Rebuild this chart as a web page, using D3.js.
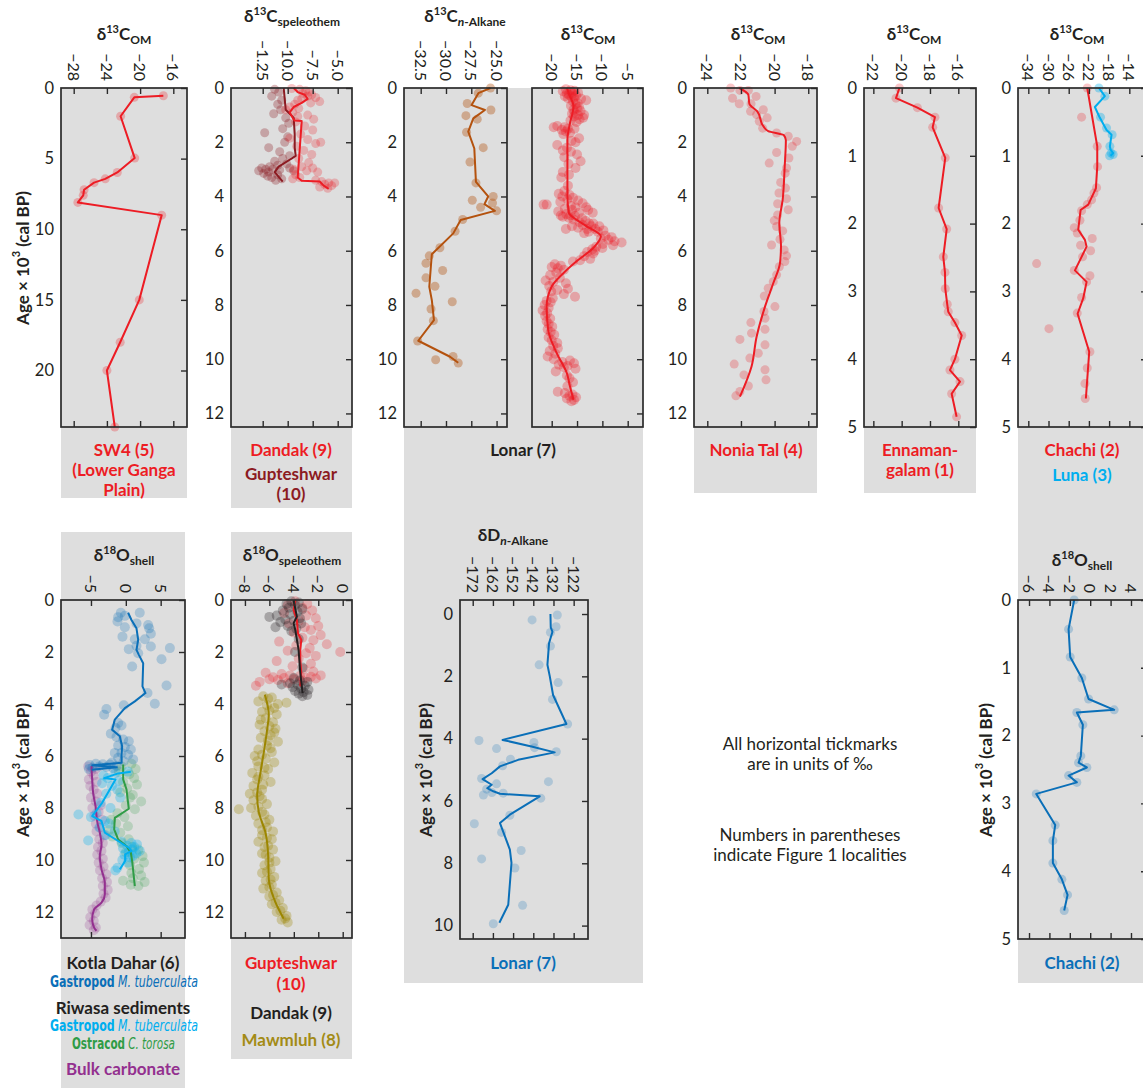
<!DOCTYPE html>
<html>
<head>
<meta charset="utf-8">
<script src="https://cdn.jsdelivr.net/npm/d3@7"></script>
<style>
  body { margin: 0; background: #fff; }
  svg { display: block; }
  text { font-family: Lato, "Open Sans", sans-serif; fill: #231f20; }
  .tick text { font-size: 16px; }
  .ylab text { font-size: 16.5px; }
</style>
</head>
<body>
<svg id="fig" width="1143" height="1090"></svg>
<script>
// ---- data: [age (ka), isotope value (‰)] ----
const sw4 = [[0.55,-17.2],[0.66,-20.7],[2.0,-22.35],[4.96,-20.65],[5.98,-22.75],[6.43,-24.2],[6.7,-25.55],[7.2,-26.75],[7.6,-26.85],[8.1,-27.5],[9.0,-17.4],[15.0,-20.1],[18.0,-22.4],[20.0,-24.0],[24.0,-23.05]];

const dandakC13Line = [[0,-9.4],[0.15,-9.0],[0.25,-8.3],[0.4,-8.0],[0.55,-8.6],[0.7,-9.4],[0.9,-9.8],[1.1,-9.5],[1.2,-9.3],[1.22,-8.6],[3.3,-9.0],[3.42,-8.6],[3.45,-6.8],[3.6,-6.4],[3.72,-5.9]];
const dandakC13 = [[0.02,-9.6],[0.05,-8.8],[0.1,-8.2],[0.15,-7.9],[0.2,-8.5],[0.25,-7.6],[0.3,-8.0],[0.35,-7.2],[0.4,-8.6],[0.45,-9.0],[0.5,-6.8],[0.55,-7.7],[0.6,-9.3],[0.7,-9.8],[0.75,-8.9],[0.8,-10.2],[0.9,-9.5],[1.0,-8.0],[1.05,-9.0],[1.15,-7.4],[1.25,-9.2],[1.4,-8.3],[1.55,-7.5],[1.7,-8.7],[1.85,-9.8],[1.9,-8.0],[2.0,-6.7],[2.05,-7.2],[2.15,-9.1],[2.3,-8.4],[2.45,-7.6],[2.6,-8.9],[2.75,-7.9],[2.9,-8.6],[2.95,-7.5],[3.0,-9.4],[3.05,-8.1],[3.1,-7.0],[3.2,-9.2],[3.3,-8.8],[3.4,-7.2],[3.45,-6.6],[3.5,-5.9],[3.55,-6.3],[3.6,-5.6],[3.65,-6.8],[3.7,-6.0],[3.5,-5.3],[3.35,-9.5]];
const guptC13Line = [[0,-10.4],[0.8,-10.2],[1.1,-9.4],[1.7,-9.3],[2.2,-9.3],[2.5,-9.2],[2.6,-9.6],[2.9,-10.9],[3.1,-11.3],[3.45,-10.5]];
const guptC13 = [[0.05,-11.3],[0.15,-10.9],[0.3,-11.6],[0.45,-10.6],[0.6,-11.0],[0.8,-10.7],[0.95,-11.4],[1.1,-10.2],[1.3,-9.9],[1.5,-10.5],[1.65,-12.3],[1.8,-10.0],[2.0,-10.3],[2.2,-11.9],[2.35,-10.8],[2.5,-9.8],[2.6,-10.5],[2.7,-11.3],[2.8,-10.1],[2.85,-11.0],[2.9,-11.8],[2.95,-12.6],[2.95,-9.8],[3.0,-12.2],[3.0,-11.5],[3.02,-10.8],[3.05,-12.9],[3.05,-9.4],[3.1,-11.9],[3.15,-12.4],[3.2,-11.0],[3.25,-12.0],[3.3,-11.6],[3.35,-10.6],[3.4,-11.2]];

const lonarAlkLine = [[0,-25.6],[0.19,-26.8],[0.63,-27.47],[0.81,-26.15],[1.12,-27.3],[1.61,-27.8],[2.23,-27.2],[3.46,-27.04],[4.0,-25.83],[4.28,-26.2],[4.53,-25.17],[4.87,-28.55],[5.36,-29.28],[6.13,-31.4],[7.33,-31.65],[7.82,-31.4],[8.56,-31.19],[9.32,-32.74],[9.91,-29.6],[10.13,-28.79]];
const lonarAlk = [[0.0,-25.6],[0.19,-26.81],[0.57,-27.9],[0.81,-25.56],[1.02,-28.03],[1.15,-26.91],[1.63,-27.97],[2.2,-26.32],[2.73,-27.63],[3.5,-27.04],[4.0,-25.33],[4.14,-27.4],[4.24,-25.4],[4.4,-26.58],[4.53,-25.0],[4.85,-28.35],[5.28,-29.1],[5.89,-30.6],[6.19,-31.65],[6.46,-31.98],[6.73,-30.33],[7.0,-31.98],[7.31,-31.09],[7.57,-32.96],[7.88,-29.38],[8.15,-31.48],[8.58,-31.25],[9.33,-32.8],[9.9,-29.3],[10.02,-31.02],[10.14,-28.79]];

const lonarOMLine = [[0,-17.0],[0.25,-16.5],[0.68,-15.7],[1.3,-16.4],[1.91,-16.9],[2.89,-16.9],[3.97,-16.9],[4.61,-16.6],[4.86,-15.1],[5.1,-13.1],[5.47,-10.3],[5.9,-11.8],[6.39,-15.1],[6.83,-17.7],[7.32,-20.0],[8.06,-21.0],[8.92,-20.7],[9.78,-19.0],[10.52,-17.0],[11.0,-16.4],[11.5,-15.7]];
const lonarOM = [[0.05,-17.2],[0.08,-16.3],[0.1,-15.5],[0.12,-17.8],[0.15,-16.0],[0.18,-14.8],[0.2,-17.0],[0.22,-15.9],[0.25,-16.6],[0.28,-15.2],[0.3,-17.4],[0.32,-16.1],[0.35,-15.6],[0.38,-16.8],[0.4,-14.2],[0.45,-13.2],[0.5,-15.8],
  [0.55,-14.9],[0.6,-15.3],[0.65,-16.2],[0.7,-14.6],[0.75,-15.0],[0.8,-15.7],[0.85,-14.3],[0.9,-15.5],[0.95,-16.0],[1.0,-14.8],[1.05,-15.6],[1.1,-13.8],[1.15,-14.5],[1.2,-16.3],[1.25,-15.1],[1.0,-13.6],
  [1.4,-18.9],[1.45,-17.5],[1.5,-16.8],[1.55,-18.0],[1.6,-17.2],[1.65,-16.4],[1.45,-19.6],[1.7,-17.7],[1.5,-15.5],
  [1.85,-14.6],[1.95,-16.1],[2.0,-15.3],[2.1,-18.9],[2.2,-17.0],[2.3,-17.8],[2.35,-16.2],[2.45,-15.0],[2.55,-17.5],[2.7,-14.3],[2.8,-16.7],[2.95,-15.3],[3.1,-17.8],[3.2,-16.6],[3.3,-18.1],
  [3.6,-16.8],[3.8,-17.5],[3.9,-18.6],[3.95,-16.5],[4.0,-17.9],[4.05,-15.8],[4.1,-16.9],[4.15,-14.8],[4.2,-18.3],[4.25,-13.9],[4.3,-21.6],[4.3,-21.0],[4.35,-16.2],[4.4,-15.3],[4.4,-13.2],[4.45,-17.4],[4.5,-16.0],[4.5,-12.8],[4.55,-18.7],[4.6,-14.6],[4.6,-11.9],[4.65,-17.1],[4.7,-16.3],[4.7,-18.2],[4.72,-15.4],[4.75,-17.8],[4.78,-16.6],[4.8,-14.0],
  [4.85,-15.7],[4.9,-13.3],[4.95,-14.5],[5.0,-12.6],[5.0,-11.8],[5.05,-13.9],[5.1,-12.2],[5.1,-10.6],[5.15,-14.8],[5.2,-13.0],[5.2,-11.4],[5.25,-9.8],[5.3,-12.7],[5.3,-10.9],[5.35,-13.6],[5.2,-17.2],[5.1,-16.0],
  [5.45,-9.4],[5.5,-8.2],[5.55,-10.3],[5.6,-8.8],[5.65,-7.6],[5.7,-6.2],[5.75,-9.9],[5.8,-7.9],[5.85,-11.2],[5.9,-10.0],[5.95,-12.0],[6.0,-11.5],
  [6.05,-13.0],[6.1,-11.8],[6.2,-13.6],[6.3,-12.4],[6.4,-15.8],[6.35,-14.4],
  [6.5,-19.4],[6.55,-18.2],[6.6,-20.0],[6.65,-18.8],[6.7,-17.6],[6.8,-19.1],[6.9,-20.3],[7.0,-18.4],[7.1,-21.2],[7.15,-19.7],[7.2,-17.2],[7.3,-20.5],[7.4,-16.8],[7.45,-18.9],[7.5,-20.1],[7.6,-17.6],[7.7,-15.4],[7.75,-19.8],
  [7.85,-21.0],[7.9,-20.2],[8.0,-21.4],[8.1,-20.6],[8.2,-21.8],[8.3,-20.9],[8.4,-21.3],[8.5,-20.3],[8.6,-21.0],[8.7,-20.6],[8.8,-19.9],[8.9,-20.8],[9.0,-20.2],[9.1,-19.5],[9.2,-20.6],[9.3,-20.0],[9.4,-18.9],[9.5,-19.7],
  [9.6,-18.8],[9.7,-20.4],[9.8,-19.3],[9.9,-20.8],[10.0,-19.6],[10.05,-16.4],[10.1,-17.9],[10.15,-15.6],[10.2,-18.6],[10.25,-16.9],[10.3,-17.6],[10.35,-15.3],[10.45,-19.2],
  [10.6,-17.0],[10.7,-16.5],[10.85,-15.8],[11.0,-16.9],[11.2,-18.8],[11.25,-17.4],[11.3,-15.9],[11.35,-16.5],[11.4,-15.2],[11.45,-17.0],[11.5,-15.6],[11.55,-16.1]];

const noniaLine = [[0,-22.1],[0.25,-21.56],[0.58,-21.5],[0.86,-21.03],[1.41,-20.67],[1.59,-20.38],[1.74,-19.45],[1.93,-19.33],[2.89,-19.4],[4.12,-19.52],[4.98,-19.72],[5.84,-19.62],[6.46,-19.68],[7.2,-20.08],[8.06,-20.57],[9.17,-21.07],[10.27,-21.37],[11.38,-22.06]];
const nonia = [[0,-22.61],[0.09,-22.06],[0.09,-21.56],[0.38,-22.5],[0.31,-21.1],[0.58,-22.1],[0.58,-21.4],[0.8,-20.67],[0.86,-21.43],[0.98,-21.07],[1.1,-20.44],[1.23,-20.91],[1.48,-20.71],[1.66,-19.88],[1.78,-19.19],[1.97,-18.69],[2.15,-18.95],[2.38,-19.88],[2.77,-20.32],[2.58,-19.15],[2.95,-19.29],[3.14,-19.37],[3.48,-19.64],[3.69,-19.35],[3.87,-19.74],[4.08,-19.29],[4.27,-19.82],[4.49,-19.19],[4.68,-19.82],[4.89,-20.02],[5.11,-19.88],[5.27,-19.52],[5.58,-19.68],[5.79,-20.18],[5.97,-19.43],[6.19,-19.29],[6.4,-19.39],[6.59,-19.72],[6.89,-19.88],[7.14,-20.08],[7.38,-20.38],[7.67,-20.61],[8.06,-19.98],[8.24,-20.63],[8.49,-20.57],[8.65,-21.41],[8.9,-20.57],[9.04,-21.37],[9.27,-22.06],[9.47,-20.57],[9.78,-20.97],[9.96,-21.47],[10.39,-20.57],[10.18,-22.4],[10.58,-21.82],[10.76,-20.51],[10.99,-21.56],[11.19,-22.06],[11.35,-22.3]];

const ennaman = [[0,-20.16],[0.15,-20.4],[0.29,-18.89],[0.43,-17.65],[0.58,-17.81],[1.03,-16.92],[1.77,-17.39],[2.08,-16.82],[2.49,-17.06],[2.72,-16.94],[2.96,-16.92],[3.19,-16.78],[3.3,-16.71],[3.46,-16.24],[3.65,-15.76],[4.0,-16.24],[4.16,-16.59],[4.33,-15.88],[4.51,-16.47],[4.85,-16.12]];

const chachiC13Line = [[0,-22.33],[0.86,-20.35],[1.16,-20.35],[1.48,-20.62],[1.72,-22.13],[1.8,-23.65],[2.09,-24.11],[2.24,-22.79],[2.34,-22.46],[2.49,-23.45],[2.69,-24.77],[2.86,-22.46],[3.1,-23.12],[3.33,-24.24],[3.89,-21.94],[4.58,-22.6]];
const chachiC13 = [[0,-22.33],[0.43,-23.45],[0.86,-20.35],[1.16,-20.29],[1.47,-20.48],[1.55,-21.0],[1.65,-21.47],[1.72,-22.33],[1.81,-23.45],[1.95,-23.78],[2.06,-24.9],[2.14,-24.31],[2.22,-21.34],[2.32,-23.65],[2.4,-21.67],[2.49,-23.25],[2.59,-32.35],[2.69,-24.9],[2.77,-21.8],[2.86,-22.46],[3.09,-23.45],[3.32,-24.31],[3.55,-29.91],[3.89,-21.8],[4.13,-22.33],[4.36,-22.79],[4.58,-22.73]];
const lunaLine = [[0,-20.02],[0.12,-18.84],[0.28,-20.82],[0.42,-19.96],[0.62,-18.51],[0.69,-17.52],[0.86,-17.85],[0.91,-17.72],[0.96,-17.19],[1.0,-17.72]];
const luna = [[0,-20.02],[0.12,-18.84],[0.43,-19.7],[0.59,-18.51],[0.69,-17.4],[0.86,-17.85],[0.96,-17.6],[0.98,-17.2],[1.0,-17.9]];

const kotlaLine = [[0.49,0.33],[0.77,0.81],[1.09,1.53],[1.53,1.77],[1.92,1.53],[2.11,1.87],[2.43,2.49],[3.32,2.39],[3.58,2.82],[3.9,1.29],[4.16,-0.14],[4.6,-1.58],[4.99,-1.96],[5.24,-0.86],[5.63,-0.53],[6.01,-0.62],[6.26,-0.6],[6.36,-4.8],[6.43,-1.3],[6.53,-4.9]];
const kotla = [[0.49,-0.72],[0.66,-1.1],[0.61,-0.14],[0.49,2.0],[0.96,3.2],[1.3,3.59],[1.09,3.35],[1.05,-0.14],[0.83,-1.2],[0.9,1.53],[1.41,-0.48],[1.51,1.29],[1.51,2.73],[1.76,1.53],[1.79,3.59],[1.85,6.32],[1.89,0.43],[2.05,1.77],[2.28,5.12],[2.56,0.91],[3.29,5.84],[3.58,3.11],[3.99,4.16],[4.05,-0.29],[4.19,-2.78],[4.41,-3.11],[4.73,-1.1],[4.92,-1.48],[4.83,-0.62],[5.14,-2.15],[5.27,-1.34],[5.37,-0.38],[5.43,0.43],[5.6,-1.1],[5.65,-0.14],[5.75,0.72],[5.88,-1.58],[5.88,-0.62],[5.95,0.33],[6.07,-1.1],[6.13,1.05],[6.2,-0.3],[6.25,-2.0],[6.3,-4.3],[6.32,-3.3],[6.33,-2.3],[6.35,-5.2],[6.38,-1.3],[6.4,-3.8],[6.42,-2.8],[6.45,-4.8],[6.47,-1.8],[6.5,-5.3]];
const riwasaGastroLine = [[6.61,0.72],[6.67,-1.1],[6.85,-3.11],[6.9,-1.48],[7.22,-2.15],[7.8,-3.4],[8.31,-4.83],[8.5,-3.49],[8.95,-3.01],[9.27,-1.1],[9.53,0.43],[9.65,0.81],[9.78,-0.1],[10.04,-0.1],[10.36,-0.86]];
const riwasaGastro = [[6.6,0.3],[6.65,-1.5],[6.75,-3.2],[6.85,-2.6],[6.95,-1.0],[7.05,-3.4],[7.15,-2.0],[7.3,-1.2],[7.45,-2.8],[7.6,-0.8],[7.8,-3.6],[8.0,-2.2],[8.2,-4.2],[8.25,-6.8],[8.35,-5.0],[8.5,-3.0],[8.6,-2.4],[8.75,-3.8],[8.9,-1.6],[9.05,-2.9],[9.25,-5.4],[9.3,-0.6],[9.35,0.8],[9.4,1.6],[9.45,0.2],[9.5,1.2],[9.55,-0.4],[9.6,0.9],[9.65,2.0],[9.7,0.4],[9.75,1.5],[9.8,-0.2],[9.85,1.0],[9.9,0.6],[10.0,-0.5],[10.1,0.3],[10.3,-1.2],[10.4,-1.5]];
const ostracodLine = [[6.33,-0.38],[6.9,-0.38],[7.29,0.1],[7.61,0.24],[8.03,0.43],[8.38,-1.58],[8.82,-1.67],[9.21,-1.1],[9.46,0.1],[9.72,0.72],[10.04,0.91],[11.0,1.29]];
const ostracod = [[6.3,0.8],[6.4,-0.6],[6.5,1.4],[6.6,-1.0],[6.7,0.5],[6.85,1.2],[7.0,-0.4],[7.1,1.6],[7.25,0.2],[7.4,-0.8],[7.5,1.0],[7.6,0.6],[7.75,2.2],[7.9,0.0],[8.05,1.3],[8.2,-1.2],[8.35,-0.2],[8.45,-2.1],[8.6,-1.4],[8.7,0.3],[8.85,-2.4],[8.95,-0.8],[9.1,-1.9],[9.2,0.4],[9.35,-0.6],[9.5,0.9],[9.6,1.8],[9.7,0.0],[9.85,2.4],[9.95,1.2],[10.1,2.6],[10.2,0.6],[10.35,1.9],[10.5,0.8],[10.6,2.2],[10.7,1.0],[10.85,2.7],[10.95,0.7],[11.0,1.8],[10.8,-0.4]];
const bulkLine = [[6.39,-4.93],[6.9,-4.83],[7.42,-4.69],[7.93,-4.35],[8.57,-4.07],[8.95,-3.73],[9.4,-3.49],[9.85,-3.73],[10.36,-3.49],[10.87,-3.01],[11.32,-3.01],[11.64,-3.49],[11.9,-4.55],[12.28,-4.83],[12.6,-4.55],[12.72,-4.21]];
const bulk = [[6.4,-5.4],[6.5,-4.3],[6.6,-5.0],[6.75,-4.6],[6.9,-5.3],[7.0,-4.2],[7.15,-5.1],[7.3,-4.6],[7.45,-4.1],[7.6,-5.0],[7.75,-4.3],[7.9,-3.6],[8.0,-4.8],[8.15,-3.9],[8.3,-4.5],[8.45,-3.4],[8.6,-4.3],[8.75,-3.7],[8.9,-4.2],[9.05,-3.1],[9.2,-3.8],[9.35,-3.3],[9.5,-4.0],[9.65,-3.5],[9.8,-4.1],[9.95,-3.3],[10.1,-3.9],[10.25,-3.2],[10.4,-3.7],[10.55,-2.8],[10.7,-3.4],[10.85,-2.7],[11.0,-3.3],[11.15,-2.6],[11.3,-3.2],[11.45,-2.9],[11.6,-3.6],[11.75,-4.2],[11.9,-4.8],[12.05,-4.4],[12.2,-5.1],[12.35,-4.6],[12.5,-5.2],[12.6,-4.3],[12.7,-4.6]];

const dandakO18Line = [[0,-4.02],[0.64,-3.75],[0.89,-4.02],[1.15,-3.88],[1.92,-3.61],[2.81,-3.47],[3.58,-3.28]];
const dandakO18 = [[0.05,-4.2],[0.1,-3.6],[0.15,-4.6],[0.2,-3.9],[0.3,-4.4],[0.35,-3.3],[0.4,-4.9],[0.45,-3.7],[0.55,-4.3],[0.6,-5.4],[0.65,-6.0],[0.7,-3.5],[0.75,-4.7],[0.8,-4.0],[0.85,-5.1],[0.9,-3.4],[1.0,-4.5],[1.05,-5.5],[1.1,-3.8],[1.2,-4.2],[1.5,-3.6],[2.0,-3.9],[2.6,-3.3],[3.0,-4.0],[3.1,-3.5],[3.15,-2.9],[3.2,-4.3],[3.25,-3.7],[3.3,-3.1],[3.35,-4.1],[3.4,-3.4],[3.45,-2.8],[3.5,-3.9],[3.55,-3.2],[3.6,-3.6],[3.65,-2.9],[3.7,-3.3],[3.25,-5.0]];
const guptO18Line = [[0,-3.88],[0.38,-4.02],[0.77,-3.75],[1.28,-3.66],[1.53,-3.39],[1.92,-3.47],[2.3,-3.47],[2.81,-3.39],[3.32,-3.47]];
const guptO18 = [[0.05,-3.9],[0.15,-2.9],[0.2,-4.5],[0.3,-3.3],[0.4,-2.5],[0.5,-4.8],[0.6,-3.0],[0.7,-2.2],[0.8,-3.6],[0.9,-4.4],[1.0,-2.0],[1.05,-3.1],[1.15,-2.6],[1.25,-4.0],[1.35,-1.8],[1.45,-3.3],[1.55,-2.4],[1.6,-5.2],[1.7,-1.3],[1.75,-3.8],[1.85,-2.7],[1.95,-4.5],[2.0,-0.2],[2.05,-3.0],[2.15,-2.2],[2.25,-3.6],[2.35,-5.4],[2.45,-2.6],[2.55,-4.1],[2.65,-3.2],[2.75,-2.4],[2.8,-6.3],[2.85,-5.0],[2.9,-4.3],[2.92,-3.5],[2.95,-2.6],[2.97,-5.7],[3.0,-4.8],[3.0,-3.0],[3.02,-2.2],[3.05,-4.0],[3.08,-5.3],[3.1,-3.3],[3.15,-6.8],[3.2,-4.5],[3.3,-7.1],[3.05,-6.0],[2.9,-1.8]];
const mawmluhLine = [[3.64,-6.37],[4.41,-6.05],[4.98,-6.18],[5.87,-6.46],[6.64,-6.73],[7.54,-7.0],[8.17,-6.86],[8.94,-6.32],[9.83,-6.1],[10.73,-6.05],[11.62,-5.51],[12.26,-4.83]];
const mawmluh = [[3.7,-6.5],[3.75,-5.8],[3.9,-6.9],[3.95,-4.6],[4.05,-6.2],[4.15,-5.6],[4.3,-6.6],[4.4,-5.4],[4.55,-6.3],[4.7,-5.7],[4.8,-6.8],[4.95,-5.5],[5.05,-6.4],[5.2,-5.9],[5.3,-6.7],[5.45,-5.3],[5.6,-6.2],[5.75,-6.9],[5.85,-5.8],[6.0,-7.2],[6.1,-6.3],[6.25,-5.6],[6.4,-6.9],[6.5,-6.1],[6.65,-7.4],[6.75,-6.4],[6.9,-7.0],[7.0,-5.9],[7.15,-7.3],[7.3,-6.6],[7.45,-7.6],[7.55,-6.8],[7.7,-7.3],[7.85,-6.2],[8.0,-7.5],[8.05,-8.5],[8.15,-6.6],[8.3,-7.1],[8.45,-6.0],[8.6,-6.9],[8.75,-6.2],[8.9,-5.7],[9.05,-6.6],[9.2,-5.8],[9.3,-6.9],[9.45,-6.1],[9.6,-5.7],[9.75,-6.6],[9.9,-6.0],[10.05,-5.5],[10.2,-6.4],[10.35,-5.9],[10.5,-6.6],[10.65,-5.6],[10.8,-6.3],[10.95,-5.8],[11.1,-6.5],[11.25,-5.4],[11.4,-6.0],[11.55,-5.2],[11.7,-5.8],[11.85,-4.9],[12.0,-5.4],[12.15,-4.6],[12.3,-5.0],[12.4,-4.5],
  [3.8,-6.1],[4.0,-5.3],[4.25,-6.0],[4.6,-6.7],[4.85,-6.0],[5.1,-5.6],[5.4,-6.1],[5.7,-5.9],[5.95,-6.6],[6.2,-7.0],[6.45,-6.4],[6.8,-6.9],[7.1,-6.5],[7.4,-7.0],[7.65,-6.6],[7.95,-6.9],[8.25,-6.4],[8.55,-6.3],[8.85,-6.6],[9.15,-6.2],[9.5,-6.4],[9.8,-6.3],[10.1,-6.0],[10.45,-6.2],[10.75,-5.9],[11.05,-6.0],[11.35,-5.7],[11.65,-5.5],[11.95,-5.1],[12.25,-4.7]];

const lonarDLine = [[0,-133.5],[0.43,-133.35],[0.57,-132.5],[0.94,-134.2],[1.63,-135.0],[2.01,-133.8],[2.6,-132.2],[3.53,-125.6],[4.04,-157.2],[4.25,-142.9],[4.44,-131.4],[4.68,-149.5],[4.89,-158.5],[5.11,-162.6],[5.3,-167.1],[5.48,-162.6],[5.59,-164.8],[5.69,-161.8],[5.77,-158.5],[5.85,-138.8],[6.44,-153.6],[6.71,-158.5],[7.56,-153.6],[7.99,-152.8],[9.33,-154.4],[9.91,-158.8]];
const lonarD = [[0.03,-130.1],[0.19,-142.6],[0.41,-130.7],[0.59,-133.5],[1.03,-133.5],[1.63,-139.1],[2.2,-129.7],[2.74,-132.5],[3.53,-125.0],[4.06,-168.9],[4.32,-160.2],[4.12,-141.7],[4.29,-141.4],[4.42,-130.6],[4.66,-153.3],[4.87,-157.2],[5.28,-167.6],[5.45,-160.2],[5.62,-165.1],[5.73,-162.5],[5.81,-166.7],[5.75,-156.9],[5.38,-134.5],[5.91,-138.3],[6.46,-153.6],[6.73,-171.2],[7.01,-157.7],[7.59,-148.0],[7.86,-167.6],[8.15,-151.1],[9.35,-147.3],[9.94,-161.8]];

const chachiO18 = [[0,-1.57],[0.43,-2.12],[0.84,-1.96],[1.15,-0.82],[1.46,-0.16],[1.62,2.35],[1.66,-1.31],[1.84,-0.72],[2.3,-0.92],[2.4,-1.14],[2.47,-0.33],[2.59,-2.12],[2.69,-1.31],[2.86,-5.29],[3.32,-3.43],[3.55,-3.66],[3.88,-3.66],[4.12,-2.78],[4.35,-2.22],[4.58,-2.55]];

// ---- colours ----
const RED = '#ed1c24', DARKRED = '#8c1b22', BROWN = '#b4520e', SKY = '#00aeef',
      BLUE = '#0a6fb8', GREEN = '#2f9c46', PURPLE = '#93308f', OLIVE = '#9c8600',
      BLACK = '#231f20', GREY = '#dedede';

const svg = d3.select('#fig');

// grey columns behind each record and its caption
[[61,88,126,410],[231,88,121,420],[404,88,239,895],[694,88,123,405],[864,88,112,405],[1018,88,140,895],
 [61,532,124,556],[231,532,121,527]]
  .forEach(r => svg.append('rect').attr('x', r[0]).attr('y', r[1]).attr('width', r[2]).attr('height', r[3]).attr('fill', GREY));

function panel(o) {
  const x = d3.scaleLinear().domain(o.xd).range([o.x0, o.x1]);
  const y = d3.scaleLinear().domain(o.yd).range([o.y0, o.y1]);
  const g = svg.append('g');
  const line = d3.line().x(d => x(d[1])).y(d => y(d[0]));

  o.series.forEach(s => {
    if (!s.dots) return;
    g.append('g').selectAll('circle').data(s.dots).join('circle')
      .attr('cx', d => x(d[1])).attr('cy', d => y(d[0])).attr('r', s.r || 4.5)
      .attr('fill', s.color).attr('fill-opacity', s.op || 0.28);
  });
  o.series.forEach(s => {
    if (!s.line) return;
    g.append('path').datum(s.line)
      .attr('d', line.curve(s.smooth ? d3.curveMonotoneY : d3.curveLinear))
      .attr('fill', 'none').attr('stroke', s.color).attr('stroke-width', 2)
      .attr('stroke-linejoin', 'round');
  });

  const strip = a => a.select('.domain').remove();
  // top axis: inward ticks, labels turned to read downward
  const top = g.append('g').attr('transform', `translate(0,${o.y0})`).style('color', '#2b2b2b')
    .call(d3.axisTop(x).tickValues(o.xt).tickSize(-6).tickFormat((d, i) => o.xl[i])).call(strip);
  top.selectAll('line').attr('stroke-width', 1.4);
  top.selectAll('text').attr('y', null).attr('dy', null)
    .attr('transform', `translate(0,${-7}) rotate(90)`)
    .attr('text-anchor', 'end').attr('dominant-baseline', 'central');
  // bottom and right ticks, pointing inward
  g.append('g').attr('transform', `translate(0,${o.y1})`).style('color', '#2b2b2b')
    .call(d3.axisBottom(x).tickValues(o.xt).tickSize(-6).tickFormat('')).call(strip)
    .selectAll('line').attr('stroke-width', 1.4);
  g.append('g').attr('transform', `translate(${o.x1},0)`).style('color', '#2b2b2b')
    .call(d3.axisRight(y).tickValues(o.yt).tickSize(-6).tickFormat('')).call(strip)
    .selectAll('line').attr('stroke-width', 1.4);
  if (o.ylabels) {
    g.append('g').attr('class', 'ylab').attr('transform', `translate(${o.x0},0)`)
      .call(d3.axisLeft(y).tickValues(o.yt).tickSize(0).tickPadding(7).tickFormat(d3.format('d'))).call(strip);
  }
  g.append('rect').attr('x', o.x0).attr('y', o.y0).attr('width', o.x1 - o.x0).attr('height', o.y1 - o.y0)
    .attr('fill', 'none').attr('stroke', '#2b2b2b').attr('stroke-width', 1.7);
}

function delta(xc, yc, iso, el, sub, italicN) {
  const t = svg.append('text').attr('x', xc).attr('y', yc).attr('text-anchor', 'middle')
    .attr('font-weight', 'bold').attr('font-size', 17);
  t.append('tspan').text('δ');
  let shift = 0;
  if (iso) { t.append('tspan').attr('font-size', 11).attr('dy', -7).text(iso); shift = 7; }
  t.append('tspan').attr('dy', shift).text(el);
  const s = t.append('tspan').attr('font-size', 12).attr('dy', 4);
  if (italicN) { s.append('tspan').attr('font-style', 'italic').text('n'); s.append('tspan').text('-Alkane'); }
  else s.text(sub);
}

function label(xc, yc, txt, color, size) {
  svg.append('text').attr('x', xc).attr('y', yc).attr('text-anchor', 'middle')
    .attr('dominant-baseline', 'central').attr('font-weight', 'bold')
    .attr('font-size', size || 17).style('fill', color).text(txt);
}

// taxon caption: bold group name followed by italic species, squeezed into [xa, xb]
function taxon(xa, xb, yc, boldPart, italPart, color) {
  const g = svg.append('g');
  const fam = '"Liberation Sans Narrow", "DejaVu Sans Condensed", sans-serif';
  const a = g.append('text').attr('x', 0).attr('y', 0).attr('dominant-baseline', 'central')
    .attr('font-size', 15).attr('font-weight', 'bold').style('font-family', fam).style('fill', color).text(boldPart);
  const b = g.append('text').attr('y', 0).attr('dominant-baseline', 'central')
    .attr('font-size', 15).attr('font-style', 'italic').style('font-family', fam).style('fill', color).text(italPart);
  const w1 = a.node().getComputedTextLength(), w2 = b.node().getComputedTextLength();
  b.attr('x', w1 + 4);
  const k = (xb - xa) / (w1 + 4 + w2);
  g.attr('transform', `translate(${xa},${yc}) scale(${k},1)`);
}

function ageTitle(xc, yc) {
  const t = svg.append('text').attr('transform', `translate(${xc},${yc}) rotate(-90)`)
    .attr('text-anchor', 'middle').attr('dominant-baseline', 'central')
    .attr('font-weight', 'bold').attr('font-size', 17);
  t.append('tspan').text('Age × 10');
  t.append('tspan').attr('font-size', 11).attr('dy', -7).text('3');
  t.append('tspan').attr('dy', 7).text(' (cal BP)');
}

const ka12 = [0,2,4,6,8,10,12];

// ---- top row ----
panel({x0:61, x1:187, y0:88, y1:427, xd:[-29.53,-14.35], yd:[0,24],
  xt:[-28,-24,-20,-16], xl:['−28','−24','−20','−16'], yt:[0,5,10,15,20], ylabels:true,
  series:[{dots:sw4, line:sw4, color:RED}]});
panel({x0:231, x1:352, y0:88, y1:427, xd:[-15.67,-3.57], yd:[0,12.5],
  xt:[-12.5,-10,-7.5,-5], xl:['−1.25','−10.0','−7.5','−5.0'], yt:ka12, ylabels:true,
  series:[{dots:guptC13, color:DARKRED, op:0.3}, {dots:dandakC13, color:RED, op:0.25},
          {line:guptC13Line, color:DARKRED}, {line:dandakC13Line, color:RED}]});
panel({x0:404, x1:507, y0:88, y1:427, xd:[-34.15,-23.97], yd:[0,12.5],
  xt:[-32.5,-30,-27.5,-25], xl:['−32.5','−30.0','−27.5','−25.0'], yt:ka12, ylabels:true,
  series:[{dots:lonarAlk, line:lonarAlkLine, color:BROWN, op:0.38}]});
panel({x0:532, x1:643, y0:88, y1:427, xd:[-23.89,-1.98], yd:[0,12.5],
  xt:[-20,-15,-10,-5], xl:['−20','−15','−10','−5'], yt:ka12, ylabels:false,
  series:[{dots:lonarOM, line:lonarOMLine, color:RED, op:0.3, r:5, smooth:true}]});
panel({x0:694, x1:817, y0:88, y1:427, xd:[-24.79,-17.48], yd:[0,12.5],
  xt:[-24,-22,-20,-18], xl:['−24','−22','−20','−18'], yt:ka12, ylabels:true,
  series:[{dots:nonia, line:noniaLine, color:RED, op:0.25, smooth:true}]});
panel({x0:864, x1:976, y0:88, y1:427, xd:[-22.66,-14.75], yd:[0,5],
  xt:[-22,-20,-18,-16], xl:['−22','−20','−18','−16'], yt:[0,1,2,3,4,5], ylabels:true,
  series:[{dots:ennaman, line:ennaman, color:RED, op:0.25}]});
panel({x0:1018, x1:1147, y0:88, y1:427, xd:[-36.04,-10.5], yd:[0,5],
  xt:[-34,-30,-26,-22,-18,-14], xl:['−34','−30','−26','−22','−18','−14'], yt:[0,1,2,3,4,5], ylabels:true,
  series:[{dots:chachiC13, line:chachiC13Line, color:RED, op:0.25}, {dots:luna, line:lunaLine, color:SKY, op:0.35}]});

// ---- bottom row ----
panel({x0:61, x1:185, y0:600, y1:938, xd:[-9.3,8.49], yd:[0,13],
  xt:[-5,0,5], xl:['−5','0','5'], yt:ka12, ylabels:true,
  series:[{dots:bulk, color:PURPLE, op:0.22, r:5}, {dots:ostracod, color:GREEN, op:0.22, r:5},
          {dots:riwasaGastro, color:SKY, op:0.3, r:5}, {dots:kotla, color:BLUE, op:0.25, r:5},
          {line:bulkLine, color:PURPLE, smooth:true}, {line:ostracodLine, color:GREEN},
          {line:riwasaGastroLine, color:SKY}, {line:kotlaLine, color:BLUE}]});
panel({x0:231, x1:352, y0:600, y1:938, xd:[-9.14,0.76], yd:[0,13],
  xt:[-8,-6,-4,-2,0], xl:['−8','−6','−4','−2','0'], yt:ka12, ylabels:true,
  series:[{dots:mawmluh, color:OLIVE, op:0.3, r:5}, {dots:guptO18, color:RED, op:0.25, r:5},
          {dots:dandakO18, color:BLACK, op:0.3, r:5},
          {line:mawmluhLine, color:OLIVE, smooth:true}, {line:guptO18Line, color:RED}, {line:dandakO18Line, color:BLACK}]});
panel({x0:460, x1:588, y0:600, y1:939, xd:[-178.3,-114.9], yd:[-0.45,10.43],
  xt:[-172,-162,-152,-142,-132,-122], xl:['−172','−162','−152','−142','−132','−122'], yt:[0,2,4,6,8,10], ylabels:true,
  series:[{dots:lonarD, line:lonarDLine, color:BLUE, op:0.22}]});
panel({x0:1018, x1:1147, y0:600, y1:939, xd:[-7.08,5.57], yd:[0,5],
  xt:[-6,-4,-2,0,2,4], xl:['−6','−4','−2','0','2','4'], yt:[0,1,2,3,4,5], ylabels:true,
  series:[{dots:chachiO18, line:chachiO18, color:BLUE, op:0.25}]});

// ---- titles ----
delta(124, 40, '13', 'C', 'OM');
delta(292, 22, '13', 'C', 'speleothem');
delta(465, 22, '13', 'C', '', true);
delta(588, 40, '13', 'C', 'OM');
delta(758, 40, '13', 'C', 'OM');
delta(914, 40, '13', 'C', 'OM');
delta(1077, 40, '13', 'C', 'OM');
delta(124, 561, '18', 'O', 'shell');
delta(292, 561, '18', 'O', 'speleothem');
delta(513, 541, null, 'D', '', true);
delta(1082, 566, '18', 'O', 'shell');

ageTitle(22, 258);
ageTitle(22, 770);
ageTitle(425, 770);
ageTitle(985, 770);

// ---- site captions ----
label(124, 449, 'SW4 (5)', RED);
label(124, 469, '(Lower Ganga', RED);
label(124, 489, 'Plain)', RED);
label(291, 449, 'Dandak (9)', RED);
label(291, 473, 'Gupteshwar', DARKRED);
label(291, 493, '(10)', DARKRED);
label(523, 449, 'Lonar (7)', BLACK);
label(756, 449, 'Nonia Tal (4)', RED);
label(920, 449, 'Ennaman-', RED);
label(920, 469, 'galam (1)', RED);
label(1082, 449, 'Chachi (2)', RED);
label(1082, 474, 'Luna (3)', SKY);

label(123, 962, 'Kotla Dahar (6)', BLACK);
taxon(50, 198, 982, 'Gastropod', 'M. tuberculata', BLUE);
label(123, 1007, 'Riwasa sediments', BLACK);
taxon(50, 198, 1026, 'Gastropod', 'M. tuberculata', SKY);
taxon(72, 175, 1044, 'Ostracod', 'C. torosa', GREEN);
label(123, 1068, 'Bulk carbonate', PURPLE);
label(291, 962, 'Gupteshwar', RED);
label(291, 983, '(10)', RED);
label(291, 1012, 'Dandak (9)', BLACK);
label(291, 1039, 'Mawmluh (8)', '#a38b16');
label(523, 962, 'Lonar (7)', BLUE);
label(1082, 962, 'Chachi (2)', BLUE);

// ---- notes ----
[['All horizontal tickmarks', 743], ['are in units of ‰', 763], ['Numbers in parentheses', 834], ['indicate Figure 1 localities', 854]]
  .forEach(([t, yy]) => svg.append('text').attr('x', 810).attr('y', yy).attr('text-anchor', 'middle')
    .attr('dominant-baseline', 'central').attr('font-size', 17).text(t));
</script>
</body>
</html>
